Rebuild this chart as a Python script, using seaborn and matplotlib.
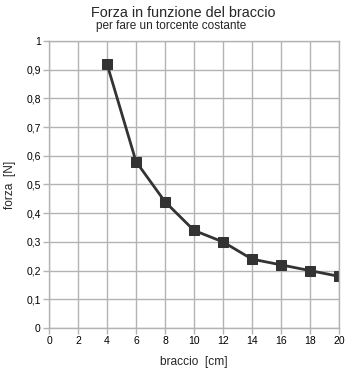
import matplotlib
matplotlib.use("Agg")
import matplotlib.pyplot as plt
import seaborn as sns
import pandas as pd
from matplotlib.ticker import FuncFormatter, MultipleLocator

braccio = [4, 6, 8, 10, 12, 14, 16, 18, 20]
forza = [0.92, 0.58, 0.44, 0.34, 0.30, 0.24, 0.22, 0.20, 0.18]
title = "Forza in funzione del braccio"
subtitle = "per fare un torcente costante"
xlabel = "braccio  [cm]"
ylabel = "forza  [N]"

sns.set_style("white")
plt.rcParams['font.family'] = ['Liberation Sans', 'DejaVu Sans']

df = pd.DataFrame({"braccio": braccio, "forza": forza})

fig = plt.figure(figsize=(3.5, 3.71), dpi=100)
ax = fig.add_axes([49/350, 43/371, 290/350, 287/371])
sns.lineplot(data=df, x="braccio", y="forza", ax=ax, color="#333333",
             linewidth=2, marker="s", markersize=7, markeredgecolor="#333333",
             markerfacecolor="#333333")
ax.set_xlim(0, 20)
ax.set_ylim(0, 1)
ax.xaxis.set_major_locator(MultipleLocator(2))
ax.yaxis.set_major_locator(MultipleLocator(0.1))
ax.yaxis.set_major_formatter(FuncFormatter(lambda v, p: ("%g" % round(v, 2)).replace(".", ",")))
ax.grid(True, color="#b3b3b3", linewidth=1)
ax.set_axisbelow(True)
for s in ax.spines.values():
    s.set_color("#b3b3b3")
    s.set_linewidth(1)
ax.tick_params(axis="both", which="major", length=4, width=1, color="#b3b3b3",
               labelsize=7.5, labelcolor="#000000", pad=2, direction="out",
               bottom=True, left=True)
ax.set_xlabel(xlabel, fontsize=8.6, labelpad=7)
ax.set_ylabel(ylabel, fontsize=8.6, labelpad=7)
fig.text(183/350, 1 - 13/371, title, ha="center", va="center", fontsize=10.4)
fig.text(171/350, 1 - 26/371, subtitle, ha="center", va="center", fontsize=8.5)
fig.savefig("out.png", dpi=100)
